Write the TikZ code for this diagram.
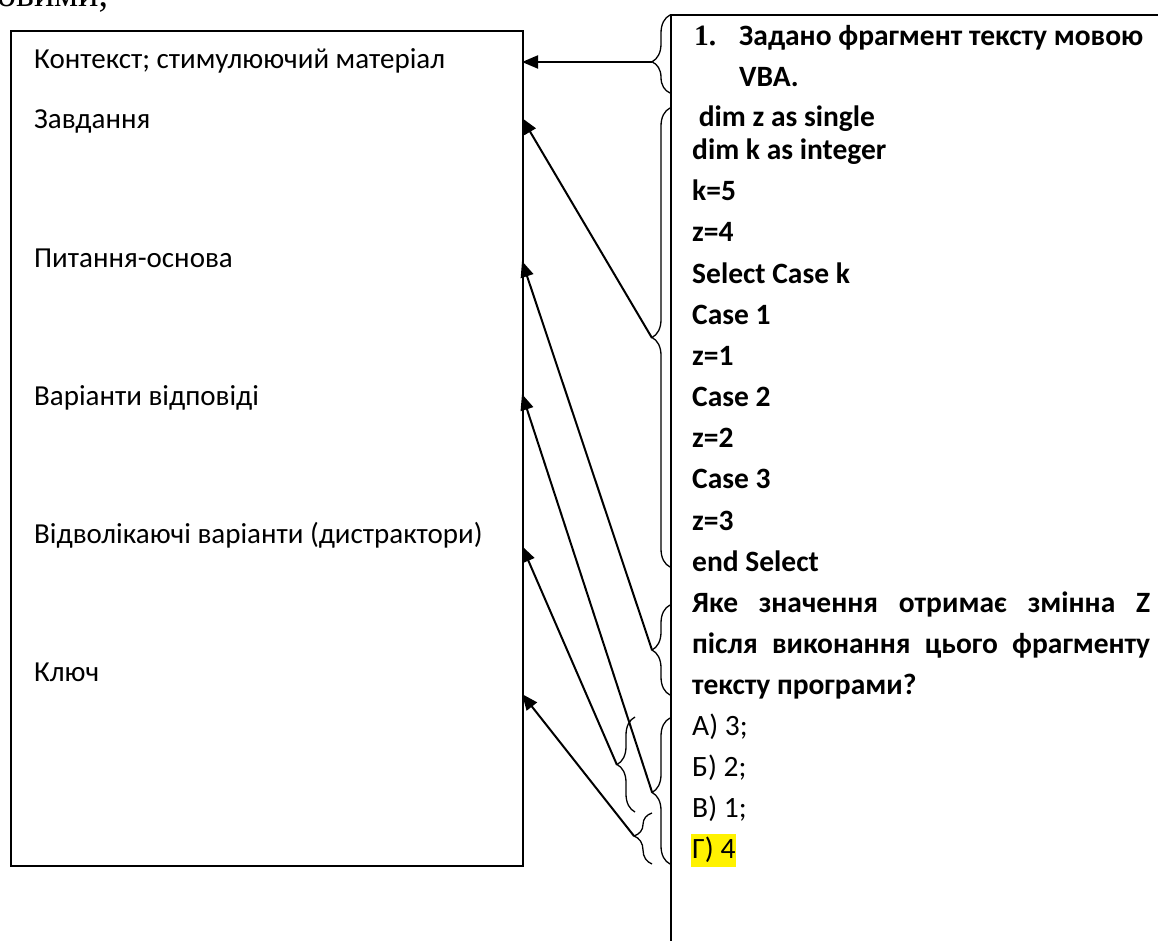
\documentclass[tikz,border=0pt]{standalone}
\usepackage{fontspec}
\setmainfont{Carlito}
\newfontfamily\tnr{Liberation Serif}
\usetikzlibrary{arrows.meta,decorations.pathreplacing}
\begin{document}
\begin{tikzpicture}[x=1pt,y=-1pt,
  lbl/.style={anchor=base west, inner sep=0, font=\fontsize{29}{33}\selectfont},
  code/.style={anchor=base west, inner sep=0, font=\fontsize{29.5}{33}\selectfont\bfseries},
  opt/.style={anchor=base west, inner sep=0, font=\fontsize{29.5}{33}\selectfont},
  arr/.style={line width=2pt, -{Triangle[length=16pt,width=13pt]}},
  brc/.style={decorate, decoration={brace, amplitude=18pt, aspect=#1}, line width=1.3pt},
  ]
\useasboundingbox (0,0) rectangle (1158,941);
% cropped fragment at top
\node[anchor=base west, inner sep=0, font=\tnr\fontsize{38}{40}\selectfont] (frag) at (-3,7) {овими;};
% left box
\node[draw, line width=1.6pt, inner sep=0, minimum width=512pt, minimum height=835pt, anchor=north west] (lbox) at (10,30) {};
\node[lbl] (l1) at (34,69) {Контекст; стимулюючий матеріал};
\node[lbl] (l2) at (34,129) {Завдання};
\node[lbl] (l3) at (34,267) {Питання-основа};
\node[lbl] (l4) at (34,405) {Варіанти відповіді};
\node[lbl] (l5) at (34,543) {Відволікаючі варіанти (дистрактори)};
\node[lbl] (l6) at (34,681) {Ключ};
% right box
\coordinate (rb1) at (671,941);
\coordinate (rb2) at (671,15);
\coordinate (rb3) at (1160,15);
\draw[line width=2pt] (rb1) -- (rb2) -- (rb3);
\node[anchor=base west, inner sep=0, font=\tnr\bfseries\fontsize{29.5}{33}\selectfont] (n1) at (694,46) {1.};
\node[code] (q1) at (739,46) {Задано фрагмент тексту мовою};
\node[code] (q2) at (739,87) {VBA.};
\node[code] (c1) at (692,127) {\ dim z as single};
\node[code] (c2) at (692,160) {dim k as integer};
\node[code] (c3) at (692,201) {k=5};
\node[code] (c4) at (692,242) {z=4};
\node[code] (c5) at (692,283) {Select Case k};
\node[code] (c6) at (692,324) {Case 1};
\node[code] (c7) at (692,365) {z=1};
\node[code] (c8) at (692,406) {Case 2};
\node[code] (c9) at (692,447) {z=2};
\node[code] (c10) at (692,488) {Case 3};
\node[code] (c11) at (692,530) {z=3};
\node[code] (c12) at (692,571) {end Select};
\node[code] (s1) at (692,612) {\makebox[458pt][s]{Яке значення отримає змінна Z}};
\node[code] (s2) at (692,653) {\makebox[458pt][s]{після виконання цього фрагменту}};
\node[code] (s3) at (692,694) {тексту програми?};
\node[opt] (o1) at (692,735) {А) 3;};
\node[opt] (o2) at (692,776) {Б) 2;};
\node[opt] (o3) at (692,817) {В) 1;};
\node[opt, fill=yellow, inner xsep=1pt, text height=24pt, text depth=9pt] (o4) at (691,858) {Г) 4};
% braces
\coordinate (b1s) at (670,93); \coordinate (b1e) at (670,15);
\draw[brc=0.4] (b1s) -- (b1e);
\coordinate (b2s) at (670,567); \coordinate (b2e) at (670,108);
\draw[brc=0.5] (b2s) -- (b2e);
\coordinate (b3s) at (670,695); \coordinate (b3e) at (670,605);
\draw[brc=0.5] (b3s) -- (b3e);
\coordinate (b4s) at (670,864); \coordinate (b4e) at (670,718);
\draw[brc=0.49] (b4s) -- (b4e);
\coordinate (b5s) at (635,812); \coordinate (b5e) at (635,717);
\draw[brc=0.5] (b5s) -- (b5e);
\coordinate (b6s) at (652,864); \coordinate (b6e) at (652,813);
\draw[brc=0.55] (b6s) -- (b6e);
% cusps
\coordinate (k1) at (652,62);
\coordinate (k2) at (652,338);
\coordinate (k3) at (652,650);
\coordinate (k4) at (652,792);
\coordinate (k5) at (617,765);
\coordinate (k6) at (634,836);
% arrow tips on left box
\coordinate (t1) at (522,62);
\coordinate (t2) at (522,118);
\coordinate (t3) at (522,261);
\coordinate (t4) at (522,394);
\coordinate (t5) at (522,546);
\coordinate (t6) at (522,694);
\draw[arr] (k1) -- (t1);
\draw[arr] (k2) -- (t2);
\draw[arr] (k3) -- (t3);
\draw[arr] (k4) -- (t4);
\draw[arr] (k5) -- (t5);
\draw[arr] (k6) -- (t6);
\end{tikzpicture}
\end{document}
